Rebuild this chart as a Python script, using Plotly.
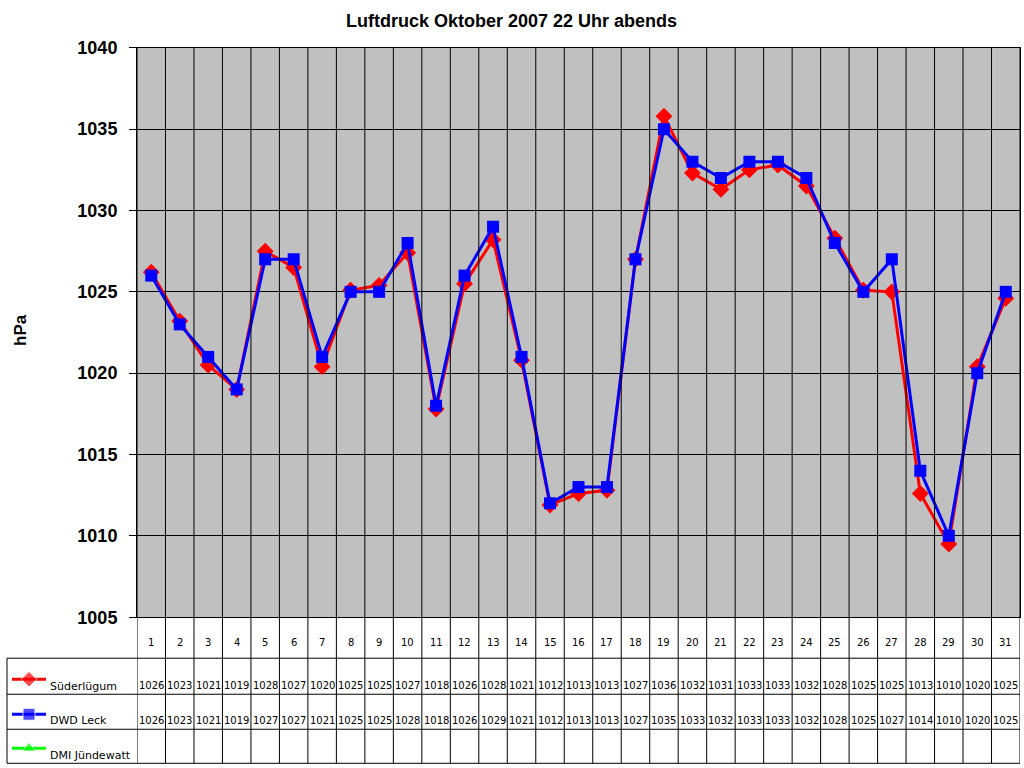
import math
import plotly.graph_objects as go

# ---------------- data ----------------
days = list(range(1, 32))
sued = [1026.2, 1023.2, 1020.5, 1019.0, 1027.5, 1026.5, 1020.4, 1025.1, 1025.4, 1027.4,
        1017.8, 1025.5, 1028.2, 1020.8, 1011.9, 1012.6, 1012.8, 1027.0, 1035.8, 1032.3,
        1031.3, 1032.5, 1032.8, 1031.5, 1028.3, 1025.1, 1025.0, 1012.6, 1009.5, 1020.4, 1024.6]
leck = [1026, 1023, 1021, 1019, 1027, 1027, 1021, 1025, 1025, 1028, 1018, 1026, 1029, 1021,
        1012, 1013, 1013, 1027, 1035, 1033, 1032, 1033, 1033, 1032, 1028, 1025, 1027, 1014,
        1010, 1020, 1025]
dmi = []  # no values
series_names = ["Süderlügum", "DWD Leck", "DMI Jündewatt"]
series_colors = ["#FF0000", "#0000FF", "#00FF00"]
series_symbols = ["diamond", "square", "triangle-up"]
y_ticks = [1005, 1010, 1015, 1020, 1025, 1030, 1035, 1040]
title = "Luftdruck Oktober 2007 22 Uhr abends"

# layout calibration (reference pixels -> figure pixels)
SY = 0.9736
TOPC = 9.45
W, H = 1024, 776
PL, PR, PT, PB = 137, 1020, 47, 616  # plot area (reference pixels)
ROWS = [657, 693, 728, 762]          # table row lines (reference pixels)


def fy(r):
    return r / SY - TOPC


def px(p):
    return p / W


def py(r):
    return (H - fy(r)) / H


FONT = "Liberation Sans, Arial, sans-serif"
TFONT = "DejaVu Sans, Verdana, sans-serif"

fig = go.Figure()

fig.add_trace(go.Scatter(x=days, y=sued, mode="lines+markers", name=series_names[0],
                         line=dict(color=series_colors[0], width=3),
                         marker=dict(symbol="diamond", size=13, color=series_colors[0]),
                         xaxis="x", yaxis="y"))
fig.add_trace(go.Scatter(x=days, y=leck, mode="lines+markers", name=series_names[1],
                         line=dict(color=series_colors[1], width=3),
                         marker=dict(symbol="square", size=12, color=series_colors[1]),
                         xaxis="x", yaxis="y"))

# legend keys in table (helper axes in figure pixel units)
key_y = [678, 713, 747]
for i in range(3):
    fig.add_trace(go.Scatter(x=[12, 29, 46], y=[fy(key_y[i])] * 3, mode="lines+markers",
                             line=dict(color=series_colors[i], width=3),
                             marker=dict(symbol=series_symbols[i], size=[0, 12, 0],
                                         color=series_colors[i]),
                             xaxis="x2", yaxis="y2", hoverinfo="skip"))

shapes = []
shapes.append(dict(type="rect", xref="x domain", yref="y domain", x0=0, x1=1, y0=0, y1=1,
                   fillcolor="#C0C0C0", line=dict(width=0), layer="below"))
for k in range(0, 32):
    shapes.append(dict(type="line", xref="x", yref="paper", x0=k + 0.5, x1=k + 0.5,
                       y0=py(ROWS[-1]), y1=py(PT), line=dict(color="black", width=1)))
for r in ROWS:
    shapes.append(dict(type="line", xref="paper", yref="paper", x0=px(7), x1=px(PR),
                       y0=py(r), y1=py(r), line=dict(color="black", width=1)))
shapes.append(dict(type="line", xref="paper", yref="paper", x0=px(7), x1=px(7),
                   y0=py(ROWS[0]), y1=py(ROWS[-1]), line=dict(color="black", width=1)))

annotations = []
tf = dict(family=TFONT, size=10, color="black")
for d in days:
    annotations.append(dict(x=d, y=py(641), xref="x", yref="paper", text=str(d),
                            showarrow=False, font=tf, xanchor="center", yanchor="middle"))
for d, v in zip(days, sued):
    annotations.append(dict(x=d, y=py(684), xref="x", yref="paper",
                            text=str(int(math.floor(v + 0.5))), showarrow=False, font=tf,
                            xanchor="center", yanchor="middle"))
for d, v in zip(days, leck):
    annotations.append(dict(x=d, y=py(719), xref="x", yref="paper",
                            text=str(int(math.floor(v + 0.5))), showarrow=False, font=tf,
                            xanchor="center", yanchor="middle"))
label_y = [685, 719, 754]
for i, nm in enumerate(series_names):
    annotations.append(dict(x=px(48), y=py(label_y[i]), xref="paper", yref="paper",
                            text=nm, showarrow=False, xanchor="left", yanchor="middle",
                            font=dict(family=TFONT, size=11, color="black")))
annotations.append(dict(x=px(511), y=py(20), xref="paper", yref="paper", text="<b>" + title + "</b>",
                        showarrow=False, xanchor="center", yanchor="middle",
                        font=dict(family=FONT, size=18, color="black")))
annotations.append(dict(x=px(20), y=py(329), xref="paper", yref="paper", text="<b>hPa</b>",
                        showarrow=False, textangle=-90, xanchor="center", yanchor="middle",
                        font=dict(family=FONT, size=17, color="black")))

fig.update_layout(
    width=W, height=H, autosize=False,
    margin=dict(l=0, r=0, t=0, b=0, pad=0),
    paper_bgcolor="white",
    plot_bgcolor="rgba(0,0,0,0)",
    showlegend=False,
    xaxis=dict(domain=[px(PL), px(PR)], range=[0.5, 31.5], showgrid=False, zeroline=False,
               showticklabels=False, showline=True, mirror=True, linecolor="black",
               linewidth=1, anchor="y", fixedrange=True),
    yaxis=dict(domain=[py(PB), py(PT)], range=[1005, 1040], tickvals=y_ticks,
               showgrid=True, gridcolor="black", gridwidth=1, zeroline=False,
               showline=True, mirror=True, linecolor="black", linewidth=1,
               ticks="outside", ticklen=7, tickcolor="black", tickwidth=1,
               ticklabelstandoff=8, anchor="x", fixedrange=True,
               tickfont=dict(family=FONT, size=18, color="black", weight="bold")),
    xaxis2=dict(domain=[0, px(PL)], range=[0, PL], visible=False, anchor="y2", fixedrange=True),
    yaxis2=dict(domain=[0, py(PB)], range=[H, fy(PB)], visible=False, anchor="x2", fixedrange=True),
    shapes=shapes,
    annotations=annotations,
)

fig.write_html("out.html", config={"responsive": False, "displayModeBar": False},
               post_script="document.body.style.margin='0px';document.body.style.overflow='hidden';")
